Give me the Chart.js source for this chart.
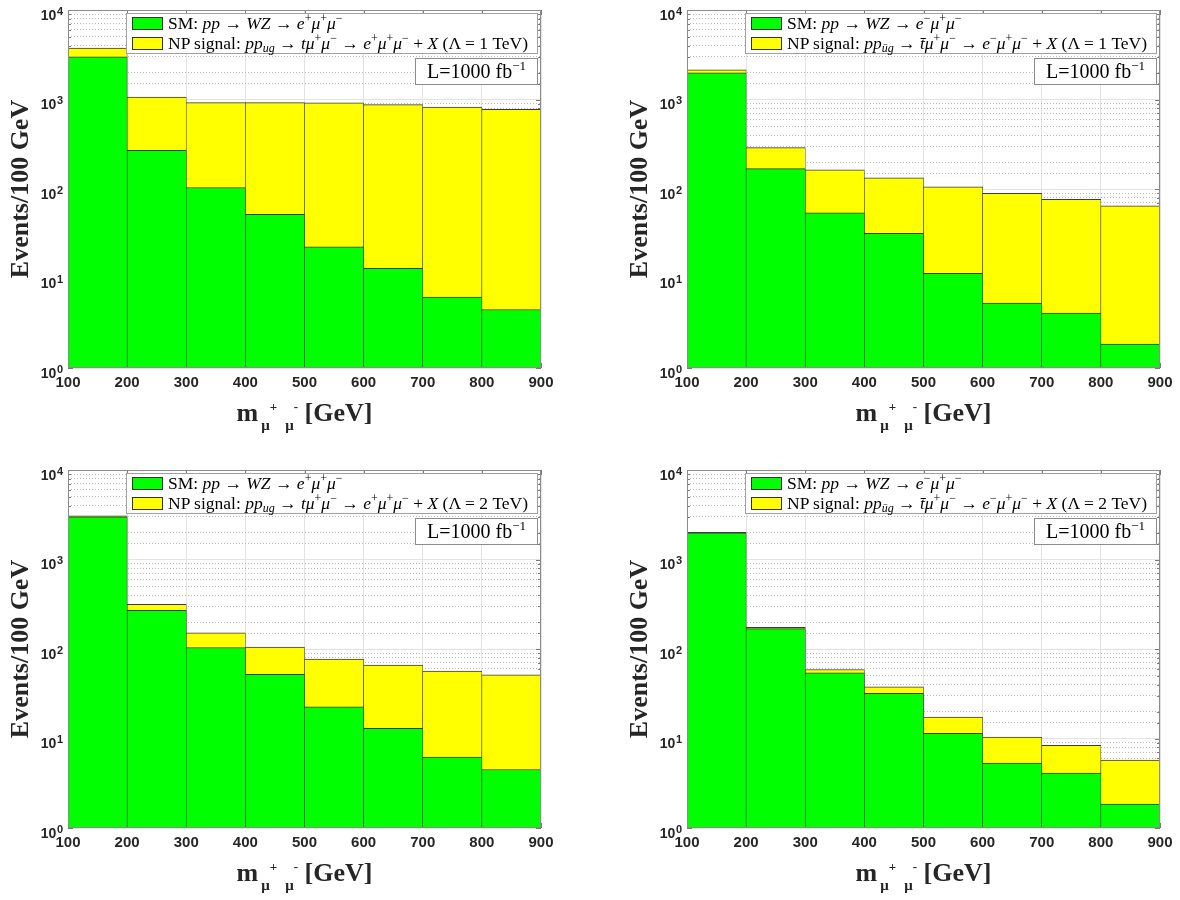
<!DOCTYPE html>
<html>
<head>
<meta charset="utf-8">
<script src="https://cdn.jsdelivr.net/npm/chart.js@4.4.1/dist/chart.umd.min.js"></script>
<style>
  body { margin: 0; width: 1180px; height: 900px; background: #fff; position: relative; overflow: hidden; }
  .panel { position: absolute; width: 560px; height: 440px; }
  .panel canvas { position: absolute; left: 0; top: 0; }
  .leg { position: absolute; left: 126px; top: 13px; width: 410px; height: 39px; border: 1px solid #a0a0a0;
         background: #fff; font-family: 'Liberation Serif', serif; font-size: 17.5px; color: #000; }
  .leg .row { position: absolute; left: 5px; height: 20px; line-height: 20px; white-space: nowrap; padding-left: 36px; }
  .leg .r1 { top: -1px; }
  .leg .r2 { top: 19px; }
  .sw { position: absolute; left: 0; top: 4px; width: 29px; height: 11px; border: 1px solid #333; }
  .leg sup, .leg sub, .lbox sup { font-size: 12px; line-height: 0; }
  .leg sup { vertical-align: 7px; }
  .leg sub { vertical-align: -3px; }
  .lbox { position: absolute; left: 415px; top: 58px; width: 121px; height: 25px; border: 1px solid #8c8c8c; background: #fff;
          font-family: 'Liberation Serif', serif; font-size: 20px; line-height: 25px; text-align: center; color: #000; }
  .lbox sup { font-size: 13px; vertical-align: 8px; }
  .xt { position: absolute; left: 68px; width: 473px; top: 398px; text-align: center; white-space: nowrap;
        font-family: 'Liberation Serif', serif; font-weight: bold; font-size: 26px; line-height: 30px; color: #262626; }
  .xt .sb { font-size: 15px; position: relative; top: 9px; margin-left: 3px; }
  .xt .sp { font-size: 13px; position: relative; top: -19px; }
  .xt .sp1 { margin-right: 8px; }
</style>
</head>
<body>

<div class="panel" style="left:0;top:0">
  <canvas id="c1" width="560" height="440"></canvas>
  <div class="leg">
    <div class="row r1"><span class="sw" style="background:#00ff00"></span>SM: <i>pp</i> → <i>WZ</i> → <i>e</i><sup>+</sup><i>μ</i><sup>+</sup><i>μ</i><sup>−</sup></div>
    <div class="row r2"><span class="sw" style="background:#ffff00"></span>NP signal: <i>pp</i><sub><i>ug</i></sub> → <i>tμ</i><sup>+</sup><i>μ</i><sup>−</sup> → <i>e</i><sup>+</sup><i>μ</i><sup>+</sup><i>μ</i><sup>−</sup> + <i>X</i> (Λ = 1 TeV)</div>
  </div>
  <div class="lbox">L=1000 fb<sup>−1</sup></div>
  <div class="xt">m<span class="sb">μ<span class="sp sp1">+</span>μ<span class="sp">-</span></span> [GeV]</div>
</div>

<div class="panel" style="left:619px;top:0">
  <canvas id="c2" width="560" height="440"></canvas>
  <div class="leg">
    <div class="row r1"><span class="sw" style="background:#00ff00"></span>SM: <i>pp</i> → <i>WZ</i> → <i>e</i><sup>−</sup><i>μ</i><sup>+</sup><i>μ</i><sup>−</sup></div>
    <div class="row r2"><span class="sw" style="background:#ffff00"></span>NP signal: <i>pp</i><sub><i>ūg</i></sub> → <i>t̄μ</i><sup>+</sup><i>μ</i><sup>−</sup> → <i>e</i><sup>−</sup><i>μ</i><sup>+</sup><i>μ</i><sup>−</sup> + <i>X</i> (Λ = 1 TeV)</div>
  </div>
  <div class="lbox">L=1000 fb<sup>−1</sup></div>
  <div class="xt">m<span class="sb">μ<span class="sp sp1">+</span>μ<span class="sp">-</span></span> [GeV]</div>
</div>

<div class="panel" style="left:0;top:460px">
  <canvas id="c3" width="560" height="440"></canvas>
  <div class="leg">
    <div class="row r1"><span class="sw" style="background:#00ff00"></span>SM: <i>pp</i> → <i>WZ</i> → <i>e</i><sup>+</sup><i>μ</i><sup>+</sup><i>μ</i><sup>−</sup></div>
    <div class="row r2"><span class="sw" style="background:#ffff00"></span>NP signal: <i>pp</i><sub><i>ug</i></sub> → <i>tμ</i><sup>+</sup><i>μ</i><sup>−</sup> → <i>e</i><sup>+</sup><i>μ</i><sup>+</sup><i>μ</i><sup>−</sup> + <i>X</i> (Λ = 2 TeV)</div>
  </div>
  <div class="lbox">L=1000 fb<sup>−1</sup></div>
  <div class="xt">m<span class="sb">μ<span class="sp sp1">+</span>μ<span class="sp">-</span></span> [GeV]</div>
</div>

<div class="panel" style="left:619px;top:460px">
  <canvas id="c4" width="560" height="440"></canvas>
  <div class="leg">
    <div class="row r1"><span class="sw" style="background:#00ff00"></span>SM: <i>pp</i> → <i>WZ</i> → <i>e</i><sup>−</sup><i>μ</i><sup>+</sup><i>μ</i><sup>−</sup></div>
    <div class="row r2"><span class="sw" style="background:#ffff00"></span>NP signal: <i>pp</i><sub><i>ūg</i></sub> → <i>t̄μ</i><sup>+</sup><i>μ</i><sup>−</sup> → <i>e</i><sup>−</sup><i>μ</i><sup>+</sup><i>μ</i><sup>−</sup> + <i>X</i> (Λ = 2 TeV)</div>
  </div>
  <div class="lbox">L=1000 fb<sup>−1</sup></div>
  <div class="xt">m<span class="sb">μ<span class="sp sp1">+</span>μ<span class="sp">-</span></span> [GeV]</div>
</div>

<script>
  // bins of m(mu+ mu-) in GeV
  const binEdges = [100, 200, 300, 400, 500, 600, 700, 800, 900];
  const binCenters = [150, 250, 350, 450, 550, 650, 750, 850];
  const yTicks = [1, 10, 100, 1000, 10000];
  const yTickExponents = ["0", "1", "2", "3", "4"];

  // SM background, events / 100 GeV
  const smEplus = [3000, 270, 104, 52, 22.6, 13, 6.2, 4.5];
  const smEminus = [1990, 169, 54, 32, 11.4, 5.3, 4.1, 1.85];

  // top of the yellow bars (SM + NP signal)
  const totalEplus1TeV = [3760, 1067, 921, 921, 915, 875, 824, 777];
  const totalEminus1TeV = [2140, 290, 164, 133, 106, 89.5, 76.7, 65];
  const totalEplus2TeV = [3070, 316, 152, 105, 77, 66, 56.6, 51.5];
  const totalEminus2TeV = [2010, 175, 59, 37.8, 17.3, 10.4, 8.4, 5.74];

  Chart.defaults.font.family = "'Liberation Sans', Arial, sans-serif";
  Chart.defaults.color = "#262626";

  const isDecade = v => yTicks.includes(v);

  // matlab style inner ticks (under the bars), axes box (over them), 10^n labels
  const axesBox = {
    id: "axesBox",
    beforeDatasetsDraw(chart) {
      const { ctx, chartArea: a } = chart;
      const xs = chart.scales.x, ys = chart.scales.y;
      ctx.save();
      ctx.strokeStyle = "#7a7a7a";
      ctx.lineWidth = 1;
      ctx.beginPath();
      xs.ticks.forEach(t => {
        const px = Math.round(xs.getPixelForValue(t.value)) + 0.5;
        ctx.moveTo(px, a.bottom); ctx.lineTo(px, a.bottom - 5);
        ctx.moveTo(px, a.top); ctx.lineTo(px, a.top + 5);
      });
      ys.ticks.forEach(t => {
        const py = Math.round(ys.getPixelForValue(t.value)) + 0.5;
        const len = isDecade(t.value) ? 5 : 3;
        ctx.moveTo(a.left, py); ctx.lineTo(a.left + len, py);
        ctx.moveTo(a.right, py); ctx.lineTo(a.right - len, py);
      });
      ctx.stroke();
      ctx.restore();
    },
    afterDatasetsDraw(chart) {
      const { ctx, chartArea: a } = chart;
      ctx.save();
      ctx.strokeStyle = "#8c8c8c";
      ctx.lineWidth = 1;
      ctx.strokeRect(Math.round(a.left) + 0.5, Math.round(a.top) + 0.5,
                     Math.round(a.right - a.left) - 1, Math.round(a.bottom - a.top) - 1);
      ctx.restore();
    },
    afterDraw(chart) {
      const { ctx, chartArea: a } = chart;
      const ys = chart.scales.y;
      const right = a.left - 5;
      ctx.save();
      ctx.fillStyle = "#262626";
      ctx.textAlign = "right";
      ctx.textBaseline = "alphabetic";
      yTicks.forEach((v, i) => {
        const py = ys.getPixelForValue(v);
        ctx.font = "bold 11px 'Liberation Sans', Arial, sans-serif";
        const ew = ctx.measureText(yTickExponents[i]).width;
        ctx.fillText(yTickExponents[i], right, py + 4.5);
        ctx.font = "bold 14px 'Liberation Sans', Arial, sans-serif";
        ctx.fillText("10", right - ew - 0.5, py + 9.5);
      });
      ctx.restore();
    }
  };

  function makeChart(id, sm, total) {
    return new Chart(document.getElementById(id), {
      type: "bar",
      data: {
        datasets: [
          {
            label: "SM",
            data: binCenters.map((x, i) => ({ x: x, y: sm[i] })),
            backgroundColor: "#00ff00",
            borderColor: "#3a3a3a",
            borderWidth: { top: 1, left: 0.6, right: 0.6, bottom: 0 },
            barPercentage: 1,
            categoryPercentage: 1
          },
          {
            label: "NP signal",
            data: binCenters.map((x, i) => ({ x: x, y: total[i] })),
            backgroundColor: "#ffff00",
            borderColor: "#3a3a3a",
            borderWidth: { top: 1, left: 0.6, right: 0.6, bottom: 0 },
            barPercentage: 1,
            categoryPercentage: 1
          }
        ]
      },
      options: {
        responsive: false,
        animation: false,
        devicePixelRatio: 1,
        layout: { padding: { left: 0, right: 19, top: 10, bottom: 0 } },
        plugins: { legend: { display: false }, tooltip: { enabled: false } },
        scales: {
          x: {
            type: "linear",
            stacked: true,
            min: binEdges[0],
            max: binEdges[binEdges.length - 1],
            offset: false,
            afterBuildTicks: s => { s.ticks = binEdges.map(v => ({ value: v })); },
            ticks: { font: { size: 15, weight: "bold" }, padding: 6, maxRotation: 0, autoSkip: false },
            grid: { color: "#e3e3e3", drawTicks: false, offset: false },
            border: { display: false },
            afterFit: s => { s.height = 72; }
          },
          y: {
            type: "logarithmic",
            stacked: false,
            min: 1,
            max: 10000,
            ticks: { display: false, autoSkip: false },
            grid: {
              drawTicks: false,
              color: c => (c.tick && isDecade(c.tick.value)) ? "#e3e3e3" : "rgba(0,0,0,0)"
            },
            border: { display: false },
            title: {
              display: true,
              text: "Events/100 GeV",
              color: "#262626",
              font: { family: "'Liberation Serif', serif", size: 26, weight: "bold" },
              padding: { top: 6, bottom: 0 }
            },
            afterFit: s => { s.width = 68; }
          },
          // second copy of the log axis only for the dotted minor grid
          y2: {
            type: "logarithmic",
            position: "right",
            min: 1,
            max: 10000,
            ticks: { display: false, autoSkip: false },
            grid: {
              drawTicks: false,
              borderDash: [1, 2],
              color: c => (c.tick && !isDecade(c.tick.value)) ? "#b8b8b8" : "rgba(0,0,0,0)"
            },
            border: { display: false, dash: [1, 2] },
            afterFit: s => { s.width = 0; }
          }
        }
      },
      plugins: [axesBox]
    });
  }

  makeChart("c1", smEplus, totalEplus1TeV);
  makeChart("c2", smEminus, totalEminus1TeV);
  makeChart("c3", smEplus, totalEplus2TeV);
  makeChart("c4", smEminus, totalEminus2TeV);
</script>
</body>
</html>
